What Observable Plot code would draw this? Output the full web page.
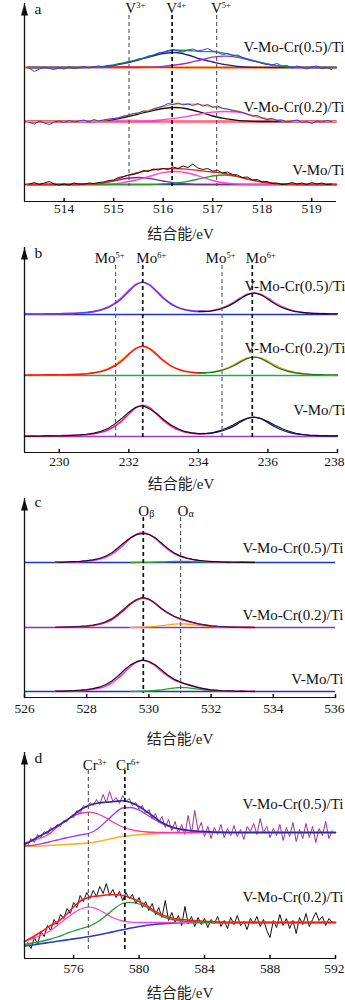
<!DOCTYPE html>
<html><head><meta charset="utf-8">
<script src="https://cdn.jsdelivr.net/npm/d3@7"></script>
<script src="https://cdn.jsdelivr.net/npm/@observablehq/plot@0.6"></script>
<style>body{margin:0;background:#fff;} #chart svg{display:block;}</style>
</head><body><div id="chart"></div>
<script>
// ======================= DATA =======================
const sampleNames = ["V-Mo-Cr(0.5)/Ti", "V-Mo-Cr(0.2)/Ti", "V-Mo/Ti"];
const axisTitle = "结合能/eV";

// ---- panel a : V 2p3/2 ----
const aTicks = [514, 515, 516, 517, 518, 519];
const aPeakNames = ["V^3+", "V^4+", "V^5+"];
const aPeakEnergies = [515.31, 516.18, 517.08];
const aOffsets = [134, 80, 17];
const aFitEnergy = [513.25,513.5,513.75,514,514.25,514.5,514.75,515,515.25,515.5,515.75,516,516.25,516.5,516.75,517,517.25,517.5,517.75,518,518.25,518.5,518.75,519,519.25,519.5];
const aV3_05 = [0,0,0,0,0,0.1,0.3,0.6,0.8,0.7,0.4,0.2,0,0,0,0,0,0,0,0,0,0,0,0,0,0];
const aV4_05 = [0,0,0,0,0,0.1,0.6,2,4.5,7.5,11,14,15,12.5,8.5,5.5,2.8,1.2,0.4,0.1,0,0,0,0,0,0];
const aV5_05 = [0,0,0,0,0,0,0,0,0,0,0.3,1.2,2.5,4.5,7.5,10.3,11.3,10.2,7.5,4.5,2.2,0.9,0.3,0,0,0];
const aEnv05 = [0,0,0,0,0,0.2,0.9,2.6,5.3,8.2,11.7,15.4,17.5,17,16,15.8,14.1,11.4,7.9,4.6,2.2,0.9,0.3,0,0,0];
const aV3_02 = [0,0,0,0,0,0.2,0.5,0.9,1.3,1.1,0.6,0.2,0,0,0,0,0,0,0,0,0,0,0,0,0,0];
const aV4_02 = [0,0,0,0,0,0,0.5,2,4.5,7.5,10.5,13,14,12.5,9.3,5.5,2.8,1.2,0.4,0,0,0,0,0,0,0];
const aV5_02 = [0,0,0,0,0,0,0,0,0,0,0.5,1.8,3.3,5.2,7.5,9.3,10,9.5,6.5,3.5,1.5,0.5,0,0,0,0];
const aEnv02 = [0,0,0,0,0,0.2,1,2.9,5.8,8.6,11.6,15,17.3,17.7,16.8,14.8,12.8,10.7,6.9,3.5,1.5,0.5,0,0,0,0];
const aV3_VM = [0,0,0,0,0,0.3,1.2,3.5,6,7,5.8,3.5,1.5,0.5,0,0,0,0,0,0,0,0,0,0,0,0];
const aV4_VM = [0,0,0,0,0,0,0,0.5,2.5,5,8.5,11.8,13,11.5,8,4,1.5,0.4,0,0,0,0,0,0,0,0];
const aV5_VM = [0,0,0,0,0,0,0,0,0,0,0,0.6,1.5,3.2,5.8,8.5,9.5,7.8,4.8,2.5,1,0.3,0,0,0,0];
const aEnvVM = [0,0,0,0,0,0.3,1.2,4,8.5,12,14.3,15.9,16,15.2,13.8,12.5,11,8.2,4.8,2.5,1,0.3,0,0,0,0];
const aRawEnergy = [513.3,513.4,513.5,513.6,513.7,513.8,513.9,514.0,514.1,514.2,
  514.3,514.4,514.5,514.6,514.7,514.8,514.9,515.0,515.1,515.2,
  515.3,515.4,515.5,515.6,515.7,515.8,515.9,516.0,516.1,516.2,
  516.3,516.4,516.5,516.6,516.7,516.8,516.9,517.0,517.1,517.2,
  517.3,517.4,517.5,517.6,517.7,517.8,517.9,518.0,518.1,518.2,
  518.3,518.4,518.5,518.6,518.7,518.8,518.9,519.0,519.1,519.2,519.3,519.4];
const aRaw05 = [-1,-4,-1.5,0.5,-1,-2,-0.5,-1.5,0.5,-1, 0,1,-0.5,0.8,1.5,0.6,2.2,2,4,3.8,
  5.5,6,8.5,9,11.5,12,14.5,15,17,18, 16.5,15.5,17.5,18.5,16.5,17.5,19,16.5,15,13,
  14,12,12.5,10,8,6.5,6,4,3,2.5, 4,1.5,2,-0.5,1.5,0,-1.5,0.5,1.5,-1, 0,-2];
const aRaw02 = [-1,-2.5,0.5,-1.5,-3,-0.5,0.5,-1,1,-0.5, 0.5,1.5,-0.5,2,0.5,1.5,2.5,3,3.5,5.5,
  6,8,8.5,10.5,10,12.5,14,15.5,18,17, 18.5,16.5,17.5,16,18,15.5,17,14,15.5,13,
  12.5,11,10,9,7.5,5.5,6,3.5,2,3, 1,1.5,-0.5,0.5,1.5,-1,0,-2,0.5,-0.5, 1,0];
const aRawVM = [0.5,2,0,1.5,3,0.5,-0.5,0.5,-0.5,1.5, 0.5,0.5,1.5,1,2,2.5,4,4.5,7,8,
  9.5,10,11.5,14,13,15.5,14.5,16,15,17.5, 16,18.5,17,20.5,16.5,15,16,13.5,14,11.5,
  12.5,10,9.5,7,7.5,4.5,5,2.5,3,1, 1.5,0,0.5,2,0.5,1.5,0,2,0.5,1.5, 0,0.5];

// ---- panel b : Mo 3d ----
const bTicks = [230, 232, 234, 236, 238];
const bPeakNames = ["Mo^5+", "Mo^6+", "Mo^5+", "Mo^6+"];
const bPeakEnergies = [231.62, 232.4, 234.68, 235.55];
const bOffsets = [138, 77, 16];
const bEnergy = [229.0,229.2,229.4,229.6,229.8,230.0,230.2,230.4,230.6,230.8,
  231.0,231.2,231.4,231.6,231.8,232.0,232.2,232.4,232.6,232.8,
  233.0,233.2,233.4,233.6,233.8,234.0,234.2,234.4,234.6,234.8,
  235.0,235.2,235.4,235.6,235.8,236.0,236.2,236.4,236.6,236.8,
  237.0,237.2,237.4,237.6,237.8,238.0];
const bFit05 = [0.4,0.4,0.5,0.6,0.7,0.8,0.9,1.1,1.5,2.0, 2.9,4.4,6.9,10.8,16.2,23.2,29.6,32.2,29.7,23.3,
  16.4,11.0,7.2,4.9,3.6,3.0,3.1,3.7,5.2,7.6, 11.1,15.6,19.7,21.3,19.6,15.4,10.7,7.1,4.6,2.9, 2.0,1.3,1.0,0.8,0.7,0.6];
const bRaw05 = [0.6,0.2,0.7,0.4,0.9,0.6,1.1,0.9,1.8,2.3, 3.3,4.9,7.6,11.8,17.5,24.6,30.5,32.6,29.4,22.6,
  15.8,10.4,7.0,4.6,3.8,3.4,3.0,4.2,5.8,8.5, 12.2,16.8,20.6,21.8,20.5,16.8,12.0,8.2,5.4,3.3, 2.2,1.6,1.0,1.1,0.6,0.8];
const bFit02 = [0.3,0.4,0.5,0.6,0.6,0.7,0.8,1.0,1.3,1.7, 2.6,3.9,6.2,9.7,14.7,21.1,26.9,29.2,26.9,21.1,
  14.8,9.9,6.5,4.3,3.2,2.6,2.7,3.2,4.5,6.5, 9.5,13.4,16.9,18.3,16.9,13.2,9.2,6.1,4.0,2.5, 1.7,1.2,0.9,0.7,0.6,0.5];
const bRaw02 = [0.5,0.1,0.6,0.3,0.8,0.5,1.0,1.2,1.1,2.0, 2.9,4.5,7.0,10.8,16.0,22.3,27.5,29.5,26.4,20.3,
  14.2,9.5,6.3,4.5,3.5,2.9,2.9,3.6,5.0,7.3, 10.4,14.5,17.6,18.5,17.6,14.6,10.6,7.2,4.8,3.0, 2.1,1.3,1.0,0.5,0.2,-0.2];
const bFitVM = [0.4,0.4,0.5,0.6,0.7,0.8,0.9,1.1,1.4,1.9, 2.8,4.2,6.6,10.5,15.7,22.5,28.7,31.2,28.8,22.6,
  15.8,10.7,7.0,4.6,3.4,2.8,2.9,3.5,4.8,7.0, 10.1,14.2,17.9,19.3,17.8,13.9,9.7,6.5,4.2,2.7, 1.8,1.2,1.0,0.8,0.6,0.5];
const bRawVM = [0.2,0.5,0.3,0.6,0.8,0.5,0.9,1.3,1.7,2.3, 3.4,5.2,8.1,12.6,18.2,24.3,29.3,30.8,27.6,22.8,
  17.0,11.8,7.9,5.1,3.6,2.9,3.0,3.8,5.6,8.2, 11.6,15.4,18.3,19.2,17.9,15.0,11.3,8.0,5.2,3.2, 2.0,1.3,0.8,0.9,0.5,0.7];

// ---- panel c : O 1s ----
const cTicks = [526, 528, 530, 532, 534, 536];
const cPeakNames = ["O_β", "O_α"];
const cPeakEnergies = [529.82, 531.02];
const cOffsets = [135, 70, 6];
const cEnergy = [527.0,527.2,527.4,527.6,527.8,528.0,528.2,528.4,528.6,528.8,
  529.0,529.2,529.4,529.6,529.8,530.0,530.2,530.4,530.6,530.8,
  531.0,531.2,531.4,531.6,531.8,532.0,532.2,532.4,532.6,532.8,533.0,533.2,533.4];
const cFit05 = [0.3,0.35,0.45,0.6,0.9,1.35,2.1,3.3,5.1,8.1, 12.6,18,24,28.2,30,28.35,24.3,18.5,13.4,9.15,
  6.3,4.4,3.0,2.0,1.3,0.85,0.6,0.43,0.3,0.25, 0.2,0.15,0.1];
const cRaw05 = [0.5,0.2,0.6,0.9,1.2,1.8,2.6,4.0,6.2,9.5, 14.5,19.8,24.6,27.8,29.2,28.0,24.8,19.6,14.2,9.8,
  6.6,4.5,3.2,2.1,1.5,0.9,0.8,0.4,0.5,0.2, 0.3,0.1,0.2];
const cFit02 = [0.3,0.3,0.4,0.6,0.9,1.3,2.0,3.2,4.9,7.8, 12.2,17.4,23.2,27.3,29.3,27.9,24.3,19.2,14.8,11.1,
  8.6,6.7,4.9,3.5,2.4,1.5,1.0,0.6,0.4,0.2, 0.2,0.1,0.1];
const cRaw02 = [0.1,0.5,0.3,0.8,1.1,1.6,2.4,3.7,5.6,8.6, 13.2,18.5,24.0,28.0,30.2,28.4,24.0,18.8,14.6,11.5,
  9.0,6.9,5.2,3.6,2.6,1.7,1.1,0.8,0.3,0.4, 0.1,0.2,0.0];
const cFitVM = [0.3,0.4,0.5,0.6,0.9,1.4,2.2,3.4,5.3,8.4, 13.0,18.6,24.8,29.1,31.2,29.6,25.8,20.3,15.6,11.8,
  9.3,7.2,5.3,3.7,2.4,1.5,0.9,0.6,0.4,0.3, 0.2,0.2,0.1];
const cRawVM = [0.4,0.2,0.7,0.9,1.3,1.9,2.8,4.3,6.8,10.2, 15.3,21.2,26.4,29.8,31.4,30.0,26.8,21.6,16.5,12.4,
  9.6,7.3,5.6,3.8,2.7,1.6,1.2,0.5,0.6,0.2, 0.3,0.0,0.2];
const cAlphaEnergy = [529.4,529.6,529.8,530.0,530.2,530.4,530.6,530.8,531.0,531.2,531.4,531.6,531.8,532.0,532.2,532.4,532.6];
const cAlpha05 = [0,0.03,0.08,0.15,0.3,0.5,0.8,1.05,1.2,1.1,0.9,0.65,0.4,0.25,0.15,0.08,0];
const cAlpha02 = [0.1,0.2,0.35,0.6,1.1,1.8,2.6,3.3,3.7,3.5,2.9,2.2,1.5,0.9,0.5,0.25,0.1];
const cAlphaVM = [0.1,0.2,0.3,0.5,1.0,1.7,2.6,3.4,4.0,3.8,3.1,2.3,1.5,0.9,0.45,0.2,0.05];

// ---- panel d : Cr 2p3/2 ----
const dTicks = [576, 580, 584, 588, 592];
const dPeakNames = ["Cr^3+", "Cr^6+"];
const dPeakEnergies = [576.9, 579.13];
const dOffsets = [126, 36];
const dFitEnergy = [573.0,573.5,574.0,574.5,575.0,575.5,576.0,576.5,577.0,577.5,
  578.0,578.5,579.0,579.5,580.0,580.5,581.0,581.5,582.0,582.5,
  583.0,583.5,584.0,584.5,585.0,585.5,586.0,586.5,587.0,587.5,
  588.0,588.5,589.0,589.5,590.0,590.5,591.0,591.5,592.0];
const dBg05 = [-14,-13.8,-13.5,-13,-12.5,-12,-11.5,-11,-10.3,-9, -7.3,-5.5,-4,-3,-2.2,-1.6,-1.1,-0.7,-0.4,-0.2,
  -0.1,0,0,0,0,0,0,0,0,0, 0,0,0,0,0,0,0,0,0];
const dCr3_05 = [-10.5,-8.3,-5.5,-1.5,5.5,11.5,16.5,19.5,20.3,18.5, 14.5,9.5,5.5,2.8,1.3,0.5,0.2,0,0,0,
  0,0,0,0,0,0,0,0,0,0, 0,0,0,0,0,0,0,0,0];
const dCr6_05 = [-13.5,-12.8,-11.3,-9.5,-7.5,-5.5,-3.8,-2.2,-0.5,4, 11.5,19,24.5,25,22.3,17.5,12.5,8,5,3,
  1.8,0.9,0.4,0.1,0,0,0,0,0,0, 0,0,0,0,0,0,0,0,0];
const dFit05 = [-12,-7.5,-3,1.5,6.5,11.5,17.5,23.5,27.5,29.5, 30.3,31,31.8,30,26,20.5,14.5,9,5.5,3.5,
  2.3,1.5,1,0.5,0.2,0,0,0,0,0, 0,0,0,0,0,0,0,0,0];
const dBg02 = [-23.5,-22.5,-21.3,-20,-18.8,-17.6,-16.4,-15.2,-14,-12.5, -10.8,-9,-7.2,-5.5,-4,-2.8,-1.8,-1.1,-0.6,-0.3,
  -0.1,0,0,0,0,0,0,0,0,0, 0,0,0,0,0,0,0,0,0];
const dCr3_02 = [-19,-16,-13,-9,-3,3.5,9.5,14,15.3,13, 8.5,4,1.5,0.3,0,0,0,0,0,0,
  0,0,0,0,0,0,0,0,0,0, 0,0,0,0,0,0,0,0,0];
const dCr6_02 = [-22,-20.5,-19,-17,-14.5,-11.5,-8.5,-6,-3.5,1, 7,14,19,20.2,18.5,15,9.5,5.5,3,1.8,
  1,0.5,0.2,0,0,0,0,0,0,0, 0,0,0,0,0,0,0,0,0];
const dFit02 = [-19,-14.5,-9.5,-4,0.5,7,15.5,22.5,25.5,26.5, 27.5,28,27,24.5,21,16.5,11,7,4.5,3.2,
  2.5,1.8,1.2,0.7,0.3,0,0,0,0,0, 0,0,0,0,0,0,0,0,0];
const dRawEnergy = [573.2,573.4,573.6,573.8,574.0,574.2,574.4,574.6,574.8,575.0,
  575.2,575.4,575.6,575.8,576.0,576.2,576.4,576.6,576.8,577.0,
  577.2,577.4,577.6,577.8,578.0,578.2,578.4,578.6,578.8,579.0,
  579.2,579.4,579.6,579.8,580.0,580.2,580.4,580.6,580.8,581.0,
  581.2,581.4,581.6,581.8,582.0,582.2,582.4,582.6,582.8,583.0,
  583.2,583.4,583.6,583.8,584.0,584.2,584.4,584.6,584.8,585.0,
  585.2,585.4,585.6,585.8,586.0,586.2,586.4,586.6,586.8,587.0,
  587.2,587.4,587.6,587.8,588.0,588.2,588.4,588.6,588.8,589.0,
  589.2,589.4,589.6,589.8,590.0,590.2,590.4,590.6,590.8,591.0,
  591.2,591.4,591.6,591.8];
const dRaw05 = [-13,-6,-10,-2,-5,1,-2,5,2,8, 6,12,11,16,15,22,19,27,25,30,
  27,33,28,38,30,41,31,35,29,37, 31,34,27,30,23,27,19,23,14,19,
  10,16,5,13,2,11,-1,8,-2,17, -1,22,2,10,-4,6,-6,5,-2,8,
  -5,4,-3,7,-4,3,-7,6,1,9, -2,14,0,6,-5,4,-3,8,-8,5,
  -4,10,-9,3,-6,9,-5,6,-10,4, -3,11,-6,2];
const dRaw02 = [-20,-26,-15,-22,-9,-14,-3,-8,3,-2, 8,4,14,9,20,15,27,21,30,24,
  32,26,36,29,39,27,33,25,31,22, 30,24,28,19,25,15,21,12,19,8,
  15,5,22,2,10,0,7,-3,16,-1, 6,-4,5,-2,4,-5,3,-1,6,-4,
  2,-6,5,-2,7,-3,1,-7,4,-1, 6,-4,3,-8,-15,2,-5,8,-3,4,
  -6,2,-11,5,-2,9,-4,3,10,2, 6,-3,4,0];

// ======================= DRAWING =======================
const FONT = "'Liberation Serif', 'Times New Roman', 'Noto Sans CJK SC', serif";
const arrowHead = {draw(ctx) { ctx.moveTo(0, 0); ctx.lineTo(3.5, 12); ctx.lineTo(-3.5, 12); ctx.closePath(); }};
const tickShape = {draw(ctx, l) { ctx.moveTo(0, 0); ctx.lineTo(0, -l); }};

const rows = (xs, ys, off) => xs.map((x, i) => ({x, y: off + ys[i]}));
const curve = (xs, ys, off, stroke, extra = {}) =>
  Plot.line(rows(xs, ys, off), {x: "x", y: "y", stroke, strokeWidth: 1.3, curve: "monotone-x", ...extra});
const raw = (xs, ys, off, stroke, w = 1) =>
  Plot.line(rows(xs, ys, off), {x: "x", y: "y", stroke, strokeWidth: w});
const base = (off, stroke, w = 1.5) => Plot.ruleY([off], {stroke, strokeWidth: w});

function frameMarks(c) {
  const x0 = c.xDomain[0];
  const x1 = c.xDomain[1];
  const inner = c.ticks.filter(t => t < x1);
  const edge = c.ticks.filter(t => t >= x1);
  return [
    Plot.ruleY([0], {stroke: "#111", strokeWidth: 1.2}),
    Plot.ruleX([x0], {stroke: "#111", strokeWidth: 1.3}),
    Plot.dot([x0], {x: d => d, frameAnchor: "top", symbol: arrowHead, r: 4, fill: "#111", stroke: "none"}),
    Plot.axisX({ticks: inner, tickSize: 0, tickPadding: c.tickPadding, tickFormat: d => String(d), label: null, fontSize: 13.5}),
    Plot.text(edge, {x: d => d, text: d => String(d), frameAnchor: "bottom", dy: c.tickPadding, dx: c.marginRight - 1,
      textAnchor: "end", lineAnchor: "top", fontSize: 13.5}),
    Plot.vector(c.ticks, {x: d => d, frameAnchor: "bottom", length: 3, rotate: 0, anchor: "start", shape: tickShape, stroke: "#111"}),
    Plot.text([axisTitle], {text: d => d, frameAnchor: "bottom", dy: c.xLabelDy, fontSize: 15, lineAnchor: "middle", fill: "#222"}),
    Plot.text([c.letter], {text: d => d, frameAnchor: "top-left", dx: 10, dy: c.letterDy, fontSize: 15.5, textAnchor: "start", lineAnchor: "middle"})
  ];
}
function peakMarks(c) {
  const m = [];
  c.peakEnergies.forEach((e, i) => {
    const strong = c.strong[i];
    m.push(Plot.ruleX([e], {x: d => d, stroke: strong ? "#111" : "#555", strokeWidth: strong ? 1.7 : 1.1,
      strokeDasharray: "4,3", insetTop: c.dashTop, insetBottom: c.dashBottom}));
    m.push(Plot.text([e], {x: d => d, text: () => c.peakNames[i], frameAnchor: "top", dy: c.peakDy, dx: c.peakDx[i],
      fontSize: 15, textAnchor: "middle", lineAnchor: "middle"}));
  });
  return m;
}
function sampleLabels(offsets, dys) {
  return offsets.map((off, i) => Plot.text([off], {y: d => d, text: () => sampleNames[i], frameAnchor: "right",
    dx: 8, dy: dys[i], fontSize: 15, textAnchor: "end", lineAnchor: "middle"}));
}
function decorate(svg) {
  svg.querySelectorAll("text").forEach(t => {
    const m = t.textContent.match(/^(.*?)([\^_])(.+)$/);
    if (!m) return;
    t.textContent = m[1];
    const ts = document.createElementNS("http://www.w3.org/2000/svg", "tspan");
    ts.setAttribute("font-size", m[2] === "^" ? "8.5" : "10");
    ts.setAttribute("dy", m[2] === "^" ? "-4.5" : "1.5");
    ts.textContent = m[3];
    t.appendChild(ts);
  });
  return svg;
}
function makePlot(c, seriesMarks) {
  const svg = Plot.plot({
    width: 345, height: c.height,
    marginLeft: 24, marginRight: c.marginRight, marginTop: c.marginTop, marginBottom: c.marginBottom,
    x: {domain: c.xDomain},
    y: {domain: [0, c.yMax], axis: null},
    style: {fontFamily: FONT, fontSize: "13.5px", background: "white", overflow: "visible", color: "#111"},
    marks: [...seriesMarks, ...peakMarks(c), ...sampleLabels(c.offsets, c.labelDy), ...frameMarks(c)]
  });
  return decorate(svg);
}

const chart = document.getElementById("chart");

// ---- a ----
{
  const o = aOffsets;
  const marks = [
    base(o[0], "#ffa500", 1.8), base(o[1], "#ff1010", 1.8), base(o[2], "#2030c0", 1.6),
    curve(aFitEnergy, aV3_05, o[0], "#ff2020"), curve(aFitEnergy, aV4_05, o[0], "#1c1c9c"),
    curve(aFitEnergy, aV5_05, o[0], "#9b30c8"), curve(aFitEnergy, aEnv05, o[0], "#1e9e2a"),
    raw(aRawEnergy, aRaw05, o[0], "#2b3bff"),
    curve(aFitEnergy, aV3_02, o[1], "#ff69b4"), curve(aFitEnergy, aV4_02, o[1], "#111"),
    curve(aFitEnergy, aV5_02, o[1], "#ff3fd0"), curve(aFitEnergy, aEnv02, o[1], "#ffa500"),
    raw(aRawEnergy, aRaw02, o[1], "#2b3bff"),
    curve(aFitEnergy, aV3_VM, o[2], "#7a2a9a"), curve(aFitEnergy, aV4_VM, o[2], "#ff3fd0"),
    curve(aFitEnergy, aV5_VM, o[2], "#22a022"), curve(aFitEnergy, aEnvVM, o[2], "#ff1a1a"),
    raw(aRawEnergy, aRawVM, o[2], "#111")
  ];
  chart.appendChild(makePlot({height: 245, marginTop: 3, marginBottom: 44, marginRight: 9,
    xDomain: [513.2, 519.5], yMax: 198, ticks: aTicks, tickPadding: 2, xLabelDy: 33, letter: "a", letterDy: 6,
    peakEnergies: aPeakEnergies, peakNames: aPeakNames, strong: [false, true, false], peakDx: [6.3, 4, 4.3],
    peakDy: 4.6, dashTop: 12, dashBottom: 15, offsets: aOffsets, labelDy: [-20, -14, -14]}, marks));
}
// ---- b ----
{
  const o = bOffsets;
  const p1 = {filter: d => d.x <= 234.2}, p2 = {filter: d => d.x >= 234.0};
  const marks = [
    base(o[0], "#2233cc"), base(o[1], "#22aa44"), base(o[2], "#9a3ad0"),
    raw(bEnergy, bRaw05, o[0], "#ff50d8", 1.2),
    curve(bEnergy, bFit05, o[0], "#5a3cf0", {...p1, strokeWidth: 1.6}), curve(bEnergy, bFit05, o[0], "#111", p2),
    raw(bEnergy, bRaw02, o[1], "#ffa500", 1.2),
    curve(bEnergy, bFit02, o[1], "#ff1a1a", {...p1, strokeWidth: 1.6}), curve(bEnergy, bFit02, o[1], "#1a7a2a", p2),
    curve(bEnergy, bFitVM, o[2], "#ff1a8c", {...p1, strokeWidth: 1.6}), curve(bEnergy, bFitVM, o[2], "#1a1a7a", p2),
    raw(bEnergy, bRawVM, o[2], "#111", 1.1)
  ];
  chart.appendChild(makePlot({height: 250, marginTop: 2, marginBottom: 43, marginRight: 8,
    xDomain: [229, 238], yMax: 205, ticks: bTicks, tickPadding: 4, xLabelDy: 32, letter: "b", letterDy: 5.5,
    peakEnergies: bPeakEnergies, peakNames: bPeakNames, strong: [false, true, false, true], peakDx: [-6, 8.5, -1.5, 8.5],
    peakDy: 10.2, dashTop: 18, dashBottom: 14, offsets: bOffsets, labelDy: [-28, -27.5, -26]}, marks));
}
// ---- c ----
{
  const o = cOffsets;
  const marks = [
    base(o[0], "#2233cc"), base(o[1], "#7a3ad0"), base(o[2], "#2233cc"),
    curve(cAlphaEnergy, cAlpha05, o[0], "#22a022"), curve(cAlphaEnergy, cAlpha02, o[1], "#ffa500"),
    curve(cAlphaEnergy, cAlphaVM, o[2], "#22a022"),
    curve(cEnergy, cFit05, o[0], "#ff33dd", {strokeWidth: 1.6}), raw(cEnergy, cRaw05, o[0], "#111", 1.2),
    curve(cEnergy, cFit02, o[1], "#ff2020", {strokeWidth: 1.6}), raw(cEnergy, cRaw02, o[1], "#3a1a6a", 1.2),
    curve(cEnergy, cFitVM, o[2], "#ff33dd", {strokeWidth: 1.6}), raw(cEnergy, cRawVM, o[2], "#111", 1.2)
  ];
  chart.appendChild(makePlot({height: 250, marginTop: 3, marginBottom: 48, marginRight: 10,
    xDomain: [526, 536], yMax: 199, ticks: cTicks, tickPadding: 6, xLabelDy: 42, letter: "c", letterDy: 4,
    peakEnergies: cPeakEnergies, peakNames: cPeakNames, strong: [true, false], peakDx: [3, 5],
    peakDy: 12.2, dashTop: 19, dashBottom: 4, offsets: cOffsets, labelDy: [-14, -12, -12.5]}, marks));
}
// ---- d ----
{
  const o = dOffsets;
  const marks = [
    raw(dRawEnergy, dRaw05, o[0], "#a0309a", 1),
    curve(dFitEnergy, dBg05, o[0], "#ffb020", {strokeWidth: 1.6}),
    curve(dFitEnergy, dCr3_05, o[0], "#ff3399"), curve(dFitEnergy, dCr6_05, o[0], "#9a3cf0"),
    curve(dFitEnergy, dFit05, o[0], "#2a2aa0", {strokeWidth: 1.6}),
    raw(dRawEnergy, dRaw02, o[1], "#111", 1),
    curve(dFitEnergy, dBg02, o[1], "#2a3acc", {strokeWidth: 1.6}),
    curve(dFitEnergy, dCr3_02, o[1], "#ff44dd"), curve(dFitEnergy, dCr6_02, o[1], "#1e9a2a"),
    curve(dFitEnergy, dFit02, o[1], "#ff1a1a", {strokeWidth: 1.6})
  ];
  chart.appendChild(makePlot({height: 255, marginTop: 7, marginBottom: 42, marginRight: 10,
    xDomain: [573, 592], yMax: 206, ticks: dTicks, tickPadding: 5, xLabelDy: 34.5, letter: "d", letterDy: 5.5,
    peakEnergies: dPeakEnergies, peakNames: dPeakNames, strong: [false, true], peakDx: [6.5, 3.2],
    peakDy: 12.2, dashTop: 18, dashBottom: 6, offsets: dOffsets, labelDy: [-28, -25.5]}, marks));
}
</script>
</body></html>
